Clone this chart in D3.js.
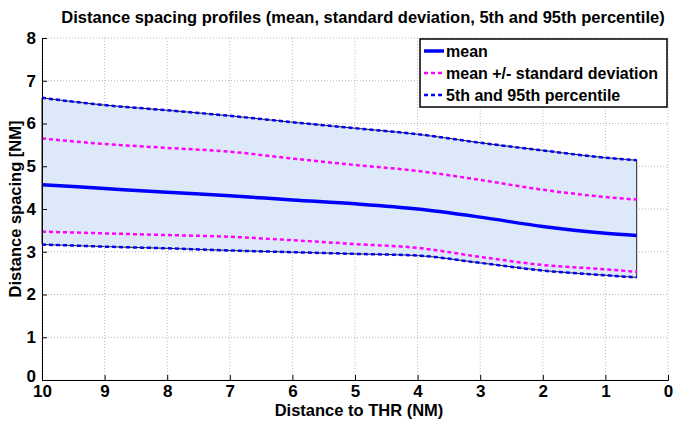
<!DOCTYPE html>
<html>
<head>
<meta charset="utf-8">
<script src="https://cdn.jsdelivr.net/npm/d3@7"></script>
<style>
  body { margin: 0; background: #fff; }
  svg { font-family: "Liberation Sans", Arial, sans-serif; font-weight: bold; }
</style>
</head>
<body>
<svg id="chart" width="678" height="421"></svg>
<script>
// distance to threshold (NM)
var dist = [10, 9, 8, 7, 6, 5, 4, 3, 2, 1, 0.5];
var meanVals = [4.57, 4.48, 4.39, 4.31, 4.21, 4.12, 4.0, 3.81, 3.59, 3.43, 3.38];
var stdUpper = [5.65, 5.52, 5.43, 5.34, 5.18, 5.03, 4.89, 4.68, 4.45, 4.28, 4.22];
var stdLower = [3.47, 3.43, 3.39, 3.35, 3.27, 3.18, 3.09, 2.88, 2.69, 2.59, 2.53];
var p95 = [6.60, 6.43, 6.31, 6.18, 6.03, 5.89, 5.75, 5.55, 5.37, 5.20, 5.14];
var p5 = [3.17, 3.12, 3.08, 3.03, 2.99, 2.95, 2.91, 2.74, 2.56, 2.45, 2.40];

var xTicks = [10, 9, 8, 7, 6, 5, 4, 3, 2, 1, 0];
var yTicks = [0, 1, 2, 3, 4, 5, 6, 7, 8];

var svg = d3.select("#chart"),
    margin = { top: 38, right: 10, bottom: 41, left: 42 },
    width = +svg.attr("width") - margin.left - margin.right,
    height = +svg.attr("height") - margin.top - margin.bottom;

var x = d3.scaleLinear().domain([10, 0]).range([0, width]);
var y = d3.scaleLinear().domain([0, 8]).range([height, 0]);

var g = svg.append("g")
  .attr("transform", "translate(" + margin.left + "," + margin.top + ")");

// grid
g.append("g").selectAll("line")
  .data(xTicks).enter().append("line")
  .attr("x1", function(d) { return x(d); })
  .attr("x2", function(d) { return x(d); })
  .attr("y1", 0).attr("y2", height)
  .attr("stroke", "#b8b8b8").attr("stroke-width", 1).attr("stroke-dasharray", "1,2");
g.append("g").selectAll("line")
  .data(yTicks).enter().append("line")
  .attr("y1", function(d) { return y(d); })
  .attr("y2", function(d) { return y(d); })
  .attr("x1", 0).attr("x2", width)
  .attr("stroke", "#b8b8b8").attr("stroke-width", 1).attr("stroke-dasharray", "1,2");

// percentile band
var band = dist.map(function(d, i) { return { x: d, lo: p5[i], hi: p95[i] }; });
var area = d3.area()
  .x(function(d) { return x(d.x); })
  .y0(function(d) { return y(d.lo); })
  .y1(function(d) { return y(d.hi); })
  .curve(d3.curveMonotoneX);
g.append("path")
  .datum(band)
  .attr("d", area)
  .attr("fill", "#dde9f8")
  .attr("stroke", "#222")
  .attr("stroke-width", 1);

function line(vals) {
  return d3.line()
    .x(function(d, i) { return x(dist[i]); })
    .y(function(d) { return y(d); })
    .curve(d3.curveMonotoneX)(vals);
}

[p95, p5].forEach(function(s) {
  g.append("path").attr("d", line(s))
    .attr("fill", "none").attr("stroke", "#0000ff")
    .attr("stroke-width", 2.5).attr("stroke-dasharray", "4,3");
});
[stdUpper, stdLower].forEach(function(s) {
  g.append("path").attr("d", line(s))
    .attr("fill", "none").attr("stroke", "#ff00ff")
    .attr("stroke-width", 2.5).attr("stroke-dasharray", "4,3");
});
g.append("path").attr("d", line(meanVals))
  .attr("fill", "none").attr("stroke", "#0000ff")
  .attr("stroke-width", 3.5);

// axes
var xAxis = g.append("g")
  .attr("transform", "translate(0," + height + ")")
  .call(d3.axisBottom(x).tickValues(xTicks).tickSize(-5).tickPadding(8).tickFormat(d3.format("d")));
var yAxis = g.append("g")
  .call(d3.axisLeft(y).tickValues(yTicks).tickSize(-5).tickPadding(6).tickFormat(d3.format("d")));
[xAxis, yAxis].forEach(function(a) {
  a.select(".domain").attr("stroke", "#000").attr("stroke-width", 1);
  a.selectAll(".tick line").attr("stroke", "#000");
  a.selectAll(".tick text").attr("font-size", 17).attr("font-weight", "bold")
    .attr("font-family", "Liberation Sans, Arial, sans-serif").attr("fill", "#000");
});
xAxis.selectAll(".tick text").attr("dy", "0.55em");
yAxis.selectAll(".tick text").attr("dy", function(d) { return d === 0 ? "0.1em" : "0.32em"; });

// title and labels
svg.append("text")
  .attr("x", 363).attr("y", 23)
  .attr("text-anchor", "middle").attr("font-size", 16.5)
  .text("Distance spacing profiles (mean, standard deviation, 5th and 95th percentile)");
svg.append("text")
  .attr("x", 359).attr("y", 416)
  .attr("text-anchor", "middle").attr("font-size", 16.5)
  .text("Distance to THR (NM)");
svg.append("text")
  .attr("transform", "translate(21," + (margin.top + height / 2) + ") rotate(-90)")
  .attr("text-anchor", "middle").attr("font-size", 16.5)
  .text("Distance spacing [NM]");

// legend
var legendItems = [
  { label: "mean", color: "#0000ff", dash: null, w: 3.5 },
  { label: "mean +/- standard deviation", color: "#ff00ff", dash: "4,3", w: 2.5 },
  { label: "5th and 95th percentile", color: "#0000ff", dash: "4,3", w: 2.5 }
];
var lg = svg.append("g").attr("transform", "translate(420,39)");
lg.append("rect")
  .attr("width", 247).attr("height", 68)
  .attr("fill", "#fff").attr("stroke", "#000").attr("stroke-width", 1.5);
legendItems.forEach(function(d, i) {
  var yy = 12 + i * 22;
  lg.append("line")
    .attr("x1", 4).attr("x2", 24).attr("y1", yy).attr("y2", yy)
    .attr("stroke", d.color).attr("stroke-width", d.w)
    .attr("stroke-dasharray", d.dash);
  lg.append("text")
    .attr("x", 26).attr("y", yy + 5.5)
    .attr("font-size", 16)
    .text(d.label);
});
</script>
</body>
</html>
